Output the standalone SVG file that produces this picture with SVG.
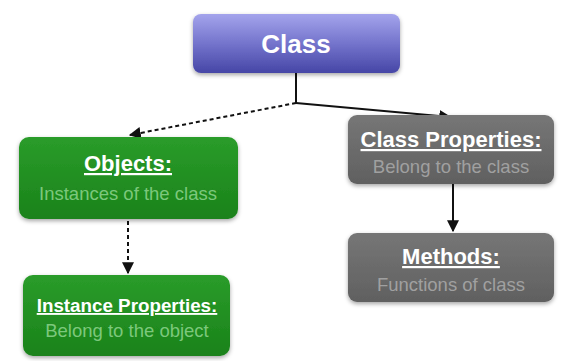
<svg xmlns="http://www.w3.org/2000/svg" width="563" height="361" viewBox="0 0 563 361">
<defs>
<linearGradient id="gPurple" x1="0" y1="0" x2="0" y2="1">
<stop offset="0" stop-color="#a4a4ec"/>
<stop offset="0.5" stop-color="#7474cc"/>
<stop offset="1" stop-color="#4646a6"/>
</linearGradient>
<linearGradient id="gGreen" x1="0" y1="0" x2="0" y2="1">
<stop offset="0" stop-color="#2a9c2a"/>
<stop offset="1" stop-color="#1a821a"/>
</linearGradient>
<linearGradient id="gGray" x1="0" y1="0" x2="0" y2="1">
<stop offset="0" stop-color="#767676"/>
<stop offset="1" stop-color="#606060"/>
</linearGradient>
<filter id="sh" x="-10%" y="-10%" width="120%" height="130%">
<feDropShadow dx="0" dy="2" stdDeviation="2" flood-color="#000" flood-opacity="0.35"/>
</filter>
<marker id="arr" viewBox="0 0 10 10" refX="9" refY="5" markerWidth="6" markerHeight="6" orient="auto">
<path d="M0,0 L10,5 L0,10 z" fill="#111"/>
</marker>
</defs>
<style>
text{font-family:"Liberation Sans",Arial,sans-serif;text-anchor:middle}
.t{font-weight:bold;fill:#fff;font-size:22px;text-decoration:underline}
.t2{font-size:18.8px}
.sg{fill:#7cc87c;font-size:18.5px}
.sy{fill:#a0a0a0;font-size:18.5px}
.ln{stroke:#111;stroke-width:2;fill:none}
.d{stroke-dasharray:4,3}
</style>
<g id="connectors">
<path class="ln" d="M296,73 L296,103"/>
<path class="ln d" d="M296,103 L130,135" marker-end="url(#arr)"/>
<path class="ln" d="M296,103 L450,117" marker-end="url(#arr)"/>
<path class="ln d" d="M128,221 L128,273" marker-end="url(#arr)"/>
<path class="ln" d="M453,184 L453,231" marker-end="url(#arr)"/>
</g>
<g id="class">
<rect x="193" y="14" width="207" height="59" rx="8" fill="url(#gPurple)" filter="url(#sh)"/>
<text x="296" y="53" font-size="26" font-weight="bold" fill="#fff">Class</text>
</g>
<g id="objects">
<rect x="19" y="137" width="219" height="82" rx="10" fill="url(#gGreen)" filter="url(#sh)"/>
<text class="t" x="128" y="171">Objects:</text>
<text class="sg" x="128" y="200">Instances of the class</text>
</g>
<g id="class-properties">
<rect x="348" y="115" width="206" height="69" rx="9" fill="url(#gGray)" filter="url(#sh)"/>
<text class="t" x="451" y="147">Class Properties:</text>
<text class="sy" x="451" y="173">Belong to the class</text>
</g>
<g id="methods">
<rect x="348" y="233" width="206" height="69" rx="9" fill="url(#gGray)" filter="url(#sh)"/>
<text class="t" x="451" y="264">Methods:</text>
<text class="sy" x="451" y="291">Functions of class</text>
</g>
<g id="instance-properties">
<rect x="23" y="275" width="207" height="81" rx="10" fill="url(#gGreen)" filter="url(#sh)"/>
<text class="t t2" x="127" y="312">Instance Properties:</text>
<text class="sg" x="127" y="337">Belong to the object</text>
</g>
</svg>
